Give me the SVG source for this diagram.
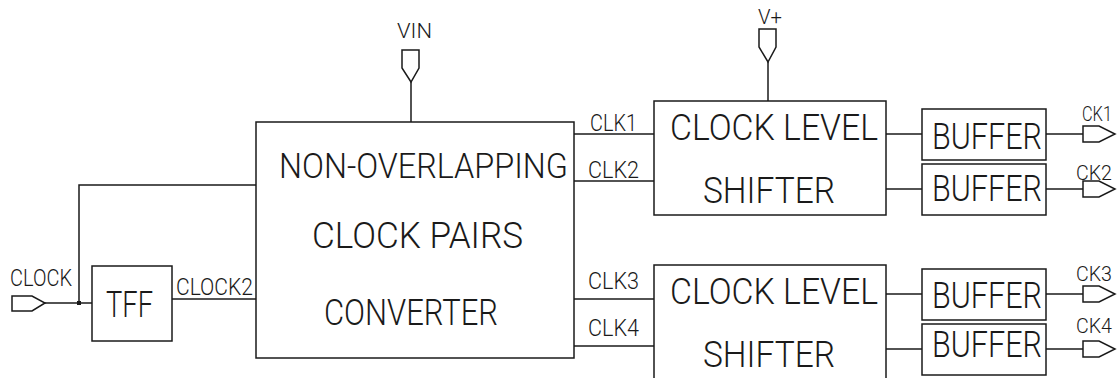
<svg xmlns="http://www.w3.org/2000/svg" width="1118" height="378" viewBox="0 0 1118 378">
<style>
.b{fill:none;stroke:#1a1a1a;stroke-width:1.5}
.w{fill:none;stroke:#1a1a1a;stroke-width:1.5}
.pin{fill:#fff;stroke:#1a1a1a;stroke-width:1.5;stroke-linejoin:miter}
text{font-family:Roboto,"Liberation Sans",Arial,sans-serif;fill:#1a1a1a;font-weight:300}
.L{font-size:36px}
.M{font-size:23px}
.S{font-size:20px}
</style>
<rect width="1118" height="378" fill="#fff"/>
<g id="connectors">
<polyline class="w" points="45,303 92,303"/>
<polyline class="w" points="79,303 79,185 256,185"/>
<rect x="77" y="301" width="4" height="4" fill="#1a1a1a"/>
<polyline class="w" points="172,299 256,299"/>
<polyline class="w" points="411,82 411,122"/>
<polyline class="w" points="768,62 768,101"/>
<polyline class="w" points="574,134 654,134"/>
<polyline class="w" points="574,181 654,181"/>
<polyline class="w" points="574,299 654,299"/>
<polyline class="w" points="574,346 654,346"/>
<polyline class="w" points="886,134 922,134"/>
<polyline class="w" points="886,189 922,189"/>
<polyline class="w" points="886,294 922,294"/>
<polyline class="w" points="886,349 922,349"/>
<polyline class="w" points="1046,134 1083,134"/>
<polyline class="w" points="1046,189 1083,189"/>
<polyline class="w" points="1046,294 1083,294"/>
<polyline class="w" points="1046,349 1083,349"/>
<text class="M" x="176" y="295" textLength="77" lengthAdjust="spacingAndGlyphs">CLOCK2</text>
<text class="M" x="590" y="131" textLength="47" lengthAdjust="spacingAndGlyphs">CLK1</text>
<text class="M" x="588" y="178" textLength="51" lengthAdjust="spacingAndGlyphs">CLK2</text>
<text class="M" x="588" y="289" textLength="51" lengthAdjust="spacingAndGlyphs">CLK3</text>
<text class="M" x="588" y="336" textLength="51" lengthAdjust="spacingAndGlyphs">CLK4</text>
</g>
<g id="clock-in">
<polygon class="pin" points="12,296 32,296 45,303 32,311 12,311"/>
<text class="M" x="10" y="286" textLength="62" lengthAdjust="spacingAndGlyphs">CLOCK</text>
</g>
<g id="vin">
<polygon class="pin" points="402,50 419,50 419,68 411,82 402,68"/>
<text class="S" x="397" y="38" textLength="35" lengthAdjust="spacingAndGlyphs">VIN</text>
</g>
<g id="vplus">
<polygon class="pin" points="759,29 776,29 776,47 768,62 759,47"/>
<text class="S" x="758" y="24" textLength="24" lengthAdjust="spacingAndGlyphs">V+</text>
</g>
<g id="tff">
<rect class="b" x="92" y="266" width="80" height="75"/>
<text x="106" y="317" font-size="37" textLength="47" lengthAdjust="spacingAndGlyphs">TFF</text>
</g>
<g id="converter">
<rect class="b" x="256" y="122" width="318" height="236"/>
<text class="L" transform="translate(279,178) scale(0.85,1)" x="0" y="0" textLength="340" lengthAdjust="spacingAndGlyphs">NON-OVERLAPPING</text>
<text class="L" x="312" y="248" textLength="211" lengthAdjust="spacingAndGlyphs">CLOCK PAIRS</text>
<text class="L" x="324" y="325" textLength="174" lengthAdjust="spacingAndGlyphs">CONVERTER</text>
</g>
<g id="shifter1">
<rect class="b" x="654" y="101" width="232" height="114"/>
<text class="L" x="670" y="140" textLength="208" lengthAdjust="spacingAndGlyphs">CLOCK LEVEL</text>
<text class="L" x="703" y="203" textLength="132" lengthAdjust="spacingAndGlyphs">SHIFTER</text>
</g>
<g id="shifter2">
<rect class="b" x="654" y="265" width="232" height="125"/>
<text class="L" x="670" y="304" textLength="208" lengthAdjust="spacingAndGlyphs">CLOCK LEVEL</text>
<text class="L" x="703" y="367" textLength="132" lengthAdjust="spacingAndGlyphs">SHIFTER</text>
</g>
<g id="buffer1">
<rect class="b" x="922" y="109" width="124" height="51"/>
<text class="L" x="932" y="149" textLength="110" lengthAdjust="spacingAndGlyphs">BUFFER</text>
</g>
<g id="buffer2">
<rect class="b" x="922" y="164" width="124" height="51"/>
<text class="L" x="932" y="201" textLength="110" lengthAdjust="spacingAndGlyphs">BUFFER</text>
</g>
<g id="buffer3">
<rect class="b" x="922" y="269" width="124" height="51"/>
<text class="L" x="932" y="308" textLength="110" lengthAdjust="spacingAndGlyphs">BUFFER</text>
</g>
<g id="buffer4">
<rect class="b" x="922" y="324" width="124" height="51"/>
<text class="L" x="932" y="357" textLength="110" lengthAdjust="spacingAndGlyphs">BUFFER</text>
</g>
<g id="ck1">
<polygon class="pin" points="1083,126 1099,126 1115,134 1099,142 1083,142"/>
<text class="S" x="1082" y="121" textLength="30" lengthAdjust="spacingAndGlyphs">CK1</text>
</g>
<g id="ck2">
<polygon class="pin" points="1083,181 1099,181 1115,189 1099,197 1083,197"/>
<text class="S" x="1076" y="180" textLength="36" lengthAdjust="spacingAndGlyphs">CK2</text>
</g>
<g id="ck3">
<polygon class="pin" points="1083,286 1099,286 1115,294 1099,302 1083,302"/>
<text class="S" x="1076" y="281" textLength="36" lengthAdjust="spacingAndGlyphs">CK3</text>
</g>
<g id="ck4">
<polygon class="pin" points="1083,341 1099,341 1115,349 1099,357 1083,357"/>
<text class="S" x="1076" y="333" textLength="36" lengthAdjust="spacingAndGlyphs">CK4</text>
</g>
</svg>
